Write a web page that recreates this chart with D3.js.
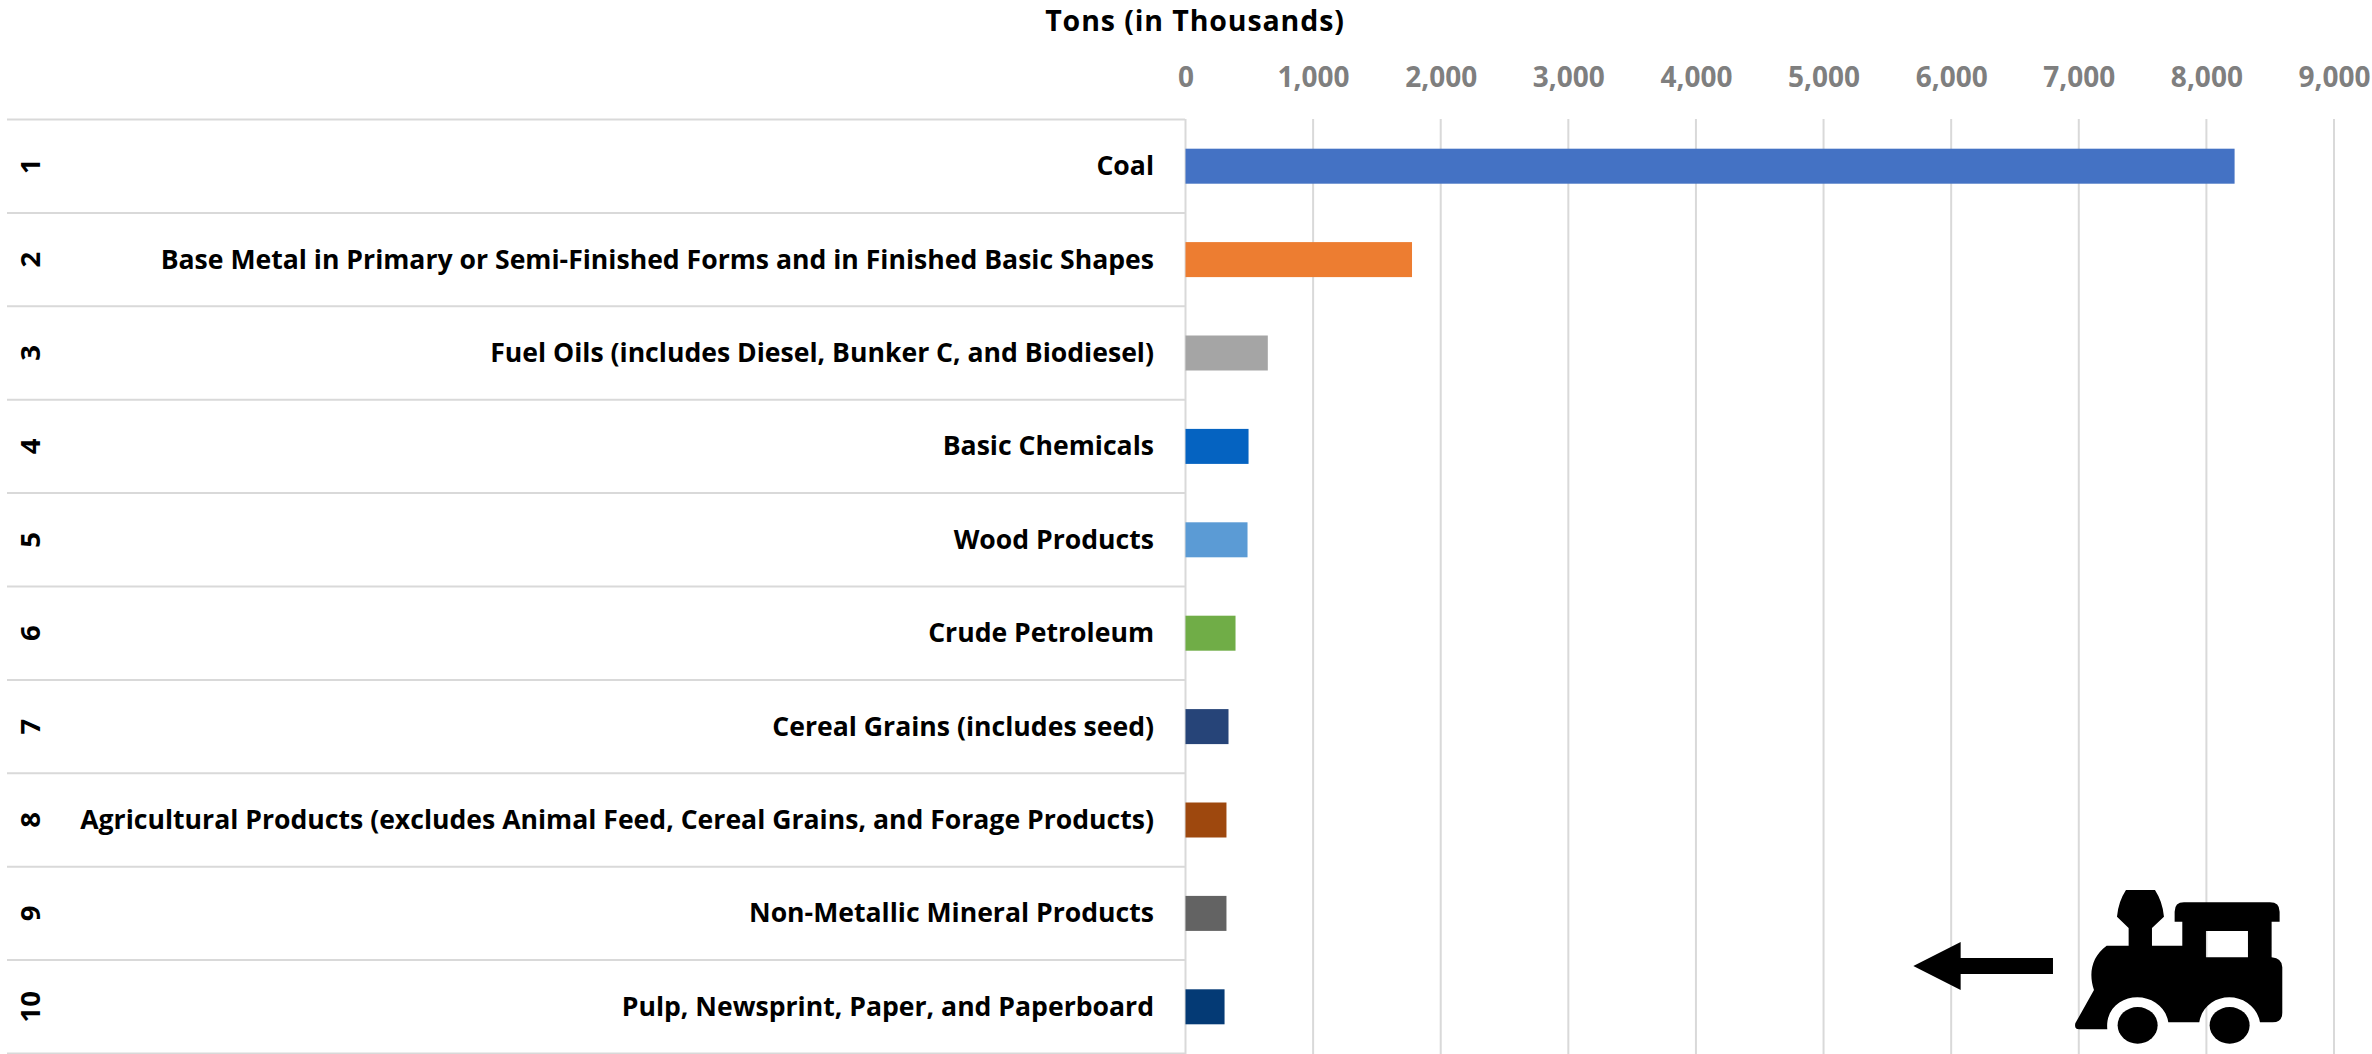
<!DOCTYPE html>
<html><head><meta charset="utf-8"><script src="https://cdn.jsdelivr.net/npm/d3@7"></script>
<style>html,body{margin:0;background:#fff}svg{display:block}text{font-family:"Open Sans",sans-serif;font-weight:700}</style></head>
<body><svg id="c" width="2372" height="1054"></svg>
<script>
const ranks=[1,2,3,4,5,6,7,8,9,10];
const categories=["Coal","Base Metal in Primary or Semi-Finished Forms and in Finished Basic Shapes","Fuel Oils (includes Diesel, Bunker C, and Biodiesel)","Basic Chemicals","Wood Products","Crude Petroleum","Cereal Grains (includes seed)","Agricultural Products (excludes Animal Feed, Cereal Grains, and Forage Products)","Non-Metallic Mineral Products","Pulp, Newsprint, Paper, and Paperboard"];
const values=[8221,1775,645,494,486,392,337,321,321,306];
const colors=["#4472C4","#ED7D31","#A5A5A5","#0563C1","#5B9BD5","#70AD47","#264478","#9E480E","#636363","#043A75"];
const ticks=[0,1000,2000,3000,4000,5000,6000,7000,8000,9000];
const axisTitle="Tons (in Thousands)";
const svg=d3.select("#c");
const x=d3.scaleLinear().domain([0,9000]).range([1185.5,2334]);
const y=d3.scaleBand().domain(ranks).range([119.5,1053.5]);
const grid="#d9d9d9";
svg.append("g").selectAll("line").data(ticks).join("line").attr("x1",d=>x(d)).attr("x2",d=>x(d)).attr("y1",119).attr("y2",1054).attr("stroke",grid).attr("stroke-width",2);
svg.append("g").selectAll("line").data([...ranks.map(r=>y(r)),y.range()[1]]).join("line").attr("x1",7).attr("x2",1185).attr("y1",d=>d).attr("y2",d=>d).attr("stroke",grid).attr("stroke-width",2);
svg.append("g").selectAll("rect").data(values).join("rect").attr("x",x(0)).attr("y",(d,i)=>y(ranks[i])+y.bandwidth()/2-17.5).attr("height",35).attr("width",d=>x(d)-x(0)).attr("fill",(d,i)=>colors[i]);
const ax=svg.append("g").attr("transform","translate(0,72)").call(d3.axisTop(x).tickValues(ticks).tickFormat(d3.format(",")).tickSize(0).tickPadding(0));
ax.select(".domain").remove();
ax.selectAll("text").attr("font-size",28).attr("fill","#7f7f7f").style("font-family",'"Open Sans",sans-serif').attr("dy",0).attr("y",15);
svg.append("text").attr("x",1195).attr("y",31).attr("text-anchor","middle").attr("font-size",28.5).attr("letter-spacing",0.9).attr("fill","#000").text(axisTitle);
svg.append("g").selectAll("text").data(categories).join("text").attr("x",1154).attr("y",(d,i)=>y(ranks[i])+y.bandwidth()/2+9).attr("text-anchor","end").attr("font-size",26.6).attr("fill","#000").text(d=>d);
svg.append("g").selectAll("text").data(ranks).join("text").attr("text-anchor","middle").attr("font-size",27.5).attr("fill","#000").attr("transform",d=>`translate(40,${y(d)+y.bandwidth()/2}) rotate(-90)`).text(d=>d);
const icon=svg.append("g").attr("transform","translate(1850,860) scale(0.3333)");
icon.append("path").attr("fill-rule","evenodd").attr("d","M828,90 L915,90 Q938,125 942,170 L906,204 L906,257 L997,257 L997,185 L974,185 L974,155 Q974,127 1002,127 L1260,127 Q1289,127 1289,155 L1289,185 L1265,185 L1265,292 Q1297,295 1297,322 L1297,458 Q1297,487 1268,487 L1230,487 C1222,440 1180,412 1138,412 C1095,412 1055,440 1048,487 L955,487 C948,440 905,412 862,412 C815,412 766,445 772,508 L688,508 Q672,508 676,490 L732,390 C715,340 725,290 770,257 L836,257 L836,204 L801,170 Q805,125 828,90 Z M1068,213 H1194 V292 H1068 Z");
icon.append("ellipse").attr("cx",863).attr("cy",496).attr("rx",60).attr("ry",55);
icon.append("ellipse").attr("cx",1139).attr("cy",496).attr("rx",60).attr("ry",55);
icon.append("path").attr("d","M190,318 L332,246 V294 H609 V342 H332 V390 Z");
</script></body></html>
